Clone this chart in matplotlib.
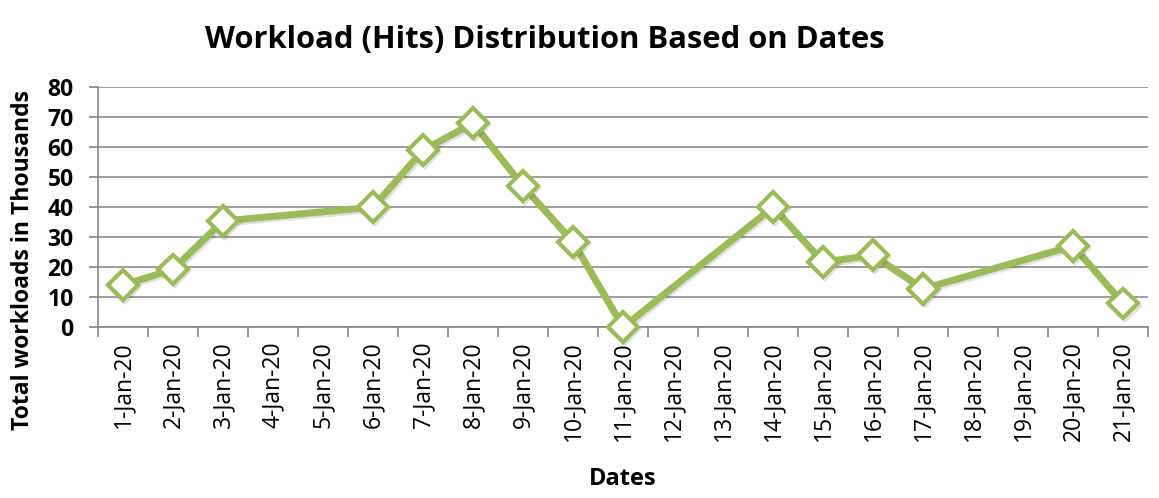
import matplotlib
matplotlib.use("Agg")
import matplotlib.pyplot as plt
import matplotlib.patheffects as pe

dates = [f"{d}-Jan-20" for d in range(1, 22)]
point_dates = ["1-Jan-20", "2-Jan-20", "3-Jan-20", "6-Jan-20", "7-Jan-20", "8-Jan-20",
               "9-Jan-20", "10-Jan-20", "11-Jan-20", "14-Jan-20", "15-Jan-20",
               "16-Jan-20", "17-Jan-20", "20-Jan-20", "21-Jan-20"]
workloads = [14, 19.3, 35.4, 40, 59, 68, 47, 28.4, 0, 40, 21.7, 24, 12.8, 27.1, 7.9]
yticks = [0, 10, 20, 30, 40, 50, 60, 70, 80]

green = "#9BBB59"
fam = ["Open Sans", "DejaVu Sans"]

fig = plt.figure(figsize=(11.59, 4.98), dpi=100)
ax = fig.add_axes([0.0846, 0.343, 0.906, 0.482])

xpos = [dates.index(d) for d in point_dates]
ax.plot(xpos, workloads, color=green, lw=5, marker="D", ms=15,
        mfc="white", mec=green, mew=3, zorder=3, clip_on=False,
        path_effects=[pe.SimpleLineShadow(offset=(1.2, -1.5), alpha=0.12), pe.Normal()])

ax.set_xlim(-0.5, len(dates) - 0.5)
ax.set_ylim(0, 80)
ax.set_yticks(yticks)
ax.set_yticklabels([str(v) for v in yticks], fontfamily=fam, fontweight="bold", fontsize=16.5)
ax.set_xticks(range(len(dates)))
ax.set_xticklabels(dates, rotation=90, fontfamily=fam, fontsize=16.5)
ax.set_xticks([i - 0.5 for i in range(len(dates) + 1)], minor=True)
ax.tick_params(axis="x", which="major", length=0, pad=10)
ax.tick_params(axis="x", which="minor", length=7, color="#868686", width=1.2)
ax.tick_params(axis="y", length=6.5, color="#868686", width=1.2, pad=11)

ax.grid(axis="y", color="#8c8c8c", lw=1.2)
ax.set_axisbelow(True)
for s in ["top", "right"]:
    ax.spines[s].set_visible(False)
for s in ["left", "bottom"]:
    ax.spines[s].set_color("#868686")
    ax.spines[s].set_linewidth(1.2)

fig.text(0.47, 0.92, "Workload (Hits) Distribution Based on Dates", ha="center", va="center",
         fontfamily=fam, fontweight="bold", fontsize=22.3)
fig.text(0.0195, 0.478, "Total workloads in Thousands", rotation=90, ha="center", va="center",
         fontfamily=fam, fontweight="bold", fontsize=16.5)
fig.text(0.537, 0.039, "Dates", ha="center", va="center",
         fontfamily=fam, fontweight="bold", fontsize=17)

fig.savefig("out.png", dpi=100)
